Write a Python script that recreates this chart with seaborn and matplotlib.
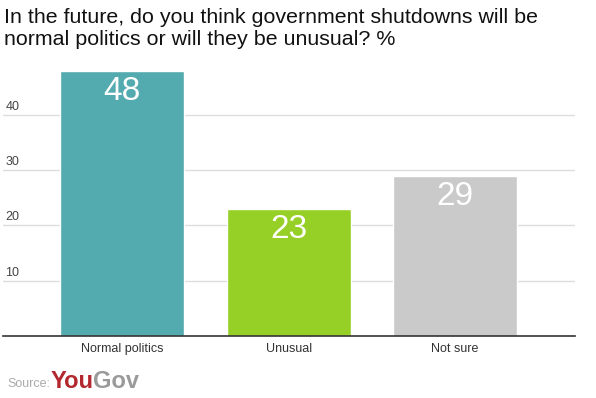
import matplotlib
matplotlib.use("Agg")
import matplotlib.pyplot as plt
import matplotlib.transforms as mtransforms
import seaborn as sns
import pandas as pd

categories = ["Normal politics", "Unusual", "Not sure"]
values = [48, 23, 29]
bar_colors = ["#54abaf", "#96cf26", "#cacaca"]
y_ticks = [10, 20, 30, 40]
title = "In the future, do you think government shutdowns will be\nnormal politics or will they be unusual? %"

sns.set_theme(style="white")
plt.rcParams["font.family"] = ["Liberation Sans", "DejaVu Sans"]

df = pd.DataFrame({"answer": categories, "pct": values})

fig = plt.figure(figsize=(5.96, 3.98), dpi=100)
ax = fig.add_axes([3 / 596, 62 / 398, 572 / 596, 276.5 / 398])

sns.barplot(data=df, x="answer", y="pct", hue="answer", palette=bar_colors,
            width=0.745, saturation=1, legend=False, ax=ax, zorder=2)

ax.set_xlim(-0.715, 2.72)
ax.set_ylim(0, 50)
ax.set_yticks(y_ticks)
ax.yaxis.grid(True, color="#dddddd", linewidth=1, zorder=0)
ax.set_axisbelow(True)
ax.tick_params(axis="y", length=0, labelleft=False)
ax.tick_params(axis="x", length=0, pad=5, labelsize=9, labelcolor="#333333")
ax.set_xlabel("")
ax.set_ylabel("")
for s in ["top", "left", "right"]:
    ax.spines[s].set_visible(False)
ax.spines["bottom"].set_color("#333333")
ax.spines["bottom"].set_linewidth(1.2)

# y tick labels sit inside the plot, just above each gridline
trans = mtransforms.blended_transform_factory(ax.transAxes, ax.transData)
for t in y_ticks:
    ax.text(0.004, t, str(t), transform=trans + mtransforms.ScaledTranslation(0, 8 / 100, fig.dpi_scale_trans),
            ha="left", va="center", fontsize=9, color="#444444")

# value labels inside the bars
for i, v in enumerate(values):
    ax.text(i, v, str(v), transform=ax.transData + mtransforms.ScaledTranslation(0, -21 / 100, fig.dpi_scale_trans),
            ha="center", va="center", fontsize=24, color="white")

# va="baseline" on multi-line text uses the last line
fig.text(4 / 596, 1 - 45 / 398, title, ha="left", va="baseline", fontsize=15.4,
         color="#111111", linespacing=1.2)

fig.text(7 / 596, 1 - 387 / 398, "Source:", ha="left", va="baseline", fontsize=9, color="#aaaaaa")
you = fig.text(51 / 596, 1 - 388 / 398, "You", ha="left", va="baseline", fontsize=17, fontweight="bold",
               color="#b3272e")
fig.canvas.draw()
x_end = you.get_window_extent().x1 / fig.bbox.width
fig.text(x_end - 1 / 596, 1 - 388 / 398, "Gov", ha="left", va="baseline", fontsize=17, fontweight="bold",
         color="#9a9a9a")

fig.savefig("out.png", dpi=100, facecolor="white")
